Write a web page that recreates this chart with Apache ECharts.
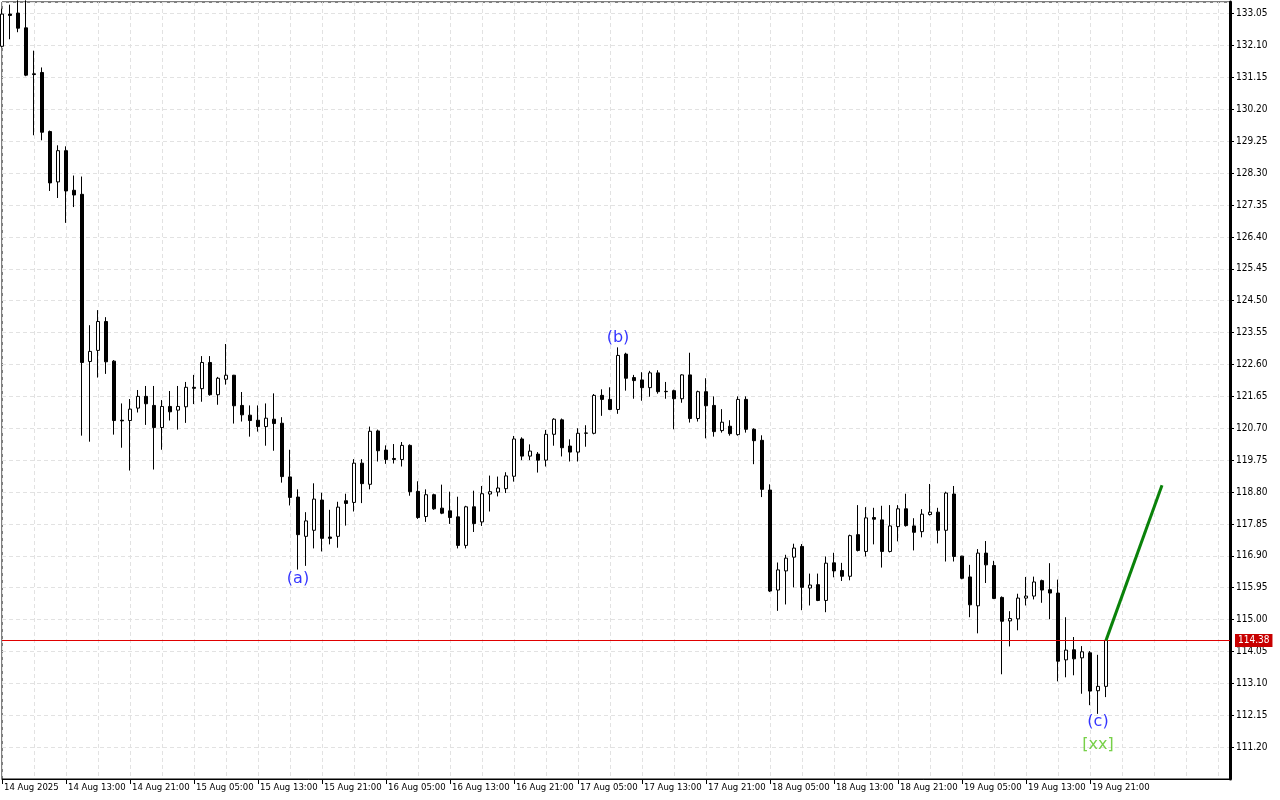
<!DOCTYPE html>
<html>
<head>
<meta charset="utf-8">
<script src="https://cdn.jsdelivr.net/npm/echarts@6/dist/echarts.min.js"></script>
<style>
html,body{margin:0;padding:0;background:#fff;}
#chart{width:1280px;height:800px;}
</style>
</head>
<body>
<div id="chart"></div>
<script>
// Hourly bars, index 0 = 14 Aug 2025 05:00
const opens = [132.08,133.04,133.07,132.63,131.26,131.30,129.54,128.04,128.97,127.79,
127.67,122.69,123.02,123.88,122.70,120.94,120.93,121.30,121.65,121.38,
120.72,121.35,121.24,121.34,121.92,121.88,122.66,121.70,122.16,122.28,
121.38,121.09,120.94,120.75,120.97,120.85,119.25,118.65,117.48,117.66,
118.56,117.46,117.48,118.54,118.49,119.66,119.03,120.62,120.05,119.80,
119.77,120.19,118.82,118.07,118.72,118.32,118.24,118.06,117.21,118.36,
117.91,118.74,118.80,118.90,119.27,120.38,119.87,119.93,119.75,120.52,
120.95,120.17,119.99,120.55,120.55,121.68,121.56,121.26,122.91,122.21,
122.14,121.91,122.35,121.79,121.82,121.58,122.29,120.99,121.79,121.38,
120.63,120.76,120.51,121.56,120.67,120.34,118.86,115.88,116.45,116.86,
117.18,115.94,116.04,115.57,116.69,116.46,116.29,117.53,117.03,118.04,
117.97,117.03,117.77,118.30,117.79,117.62,118.13,118.20,117.66,118.74,
116.89,116.27,115.41,116.98,116.61,115.66,114.96,115.02,115.64,115.70,
116.16,115.89,115.79,113.80,114.10,113.86,114.01,112.88,113.01];
const closes = [133.04,133.00,132.62,131.22,131.24,129.52,128.01,128.97,127.77,127.65,
122.66,122.99,123.88,122.68,120.93,120.92,121.27,121.65,121.43,120.72,
121.35,121.19,121.35,121.92,121.89,122.66,121.70,122.19,122.28,121.37,
121.10,120.93,120.75,121.00,120.84,119.26,118.64,117.53,117.94,118.59,
117.42,117.42,118.35,118.46,119.66,119.05,120.61,120.03,119.77,119.77,
120.19,118.81,118.04,118.72,118.30,118.17,118.04,117.21,118.36,117.86,
118.75,118.81,118.92,119.28,120.38,119.87,120.02,119.75,120.52,120.97,
120.12,119.99,120.55,120.56,121.68,121.56,121.26,122.87,122.19,122.12,
121.91,122.35,121.79,121.80,121.58,122.29,120.99,121.79,121.37,120.60,
120.88,120.54,121.56,120.67,120.33,118.88,115.85,116.48,116.83,117.13,
115.96,116.03,115.57,116.68,116.45,116.29,117.50,117.06,118.03,117.99,
117.03,117.79,118.30,117.80,117.60,118.14,118.20,117.66,118.77,116.88,
116.23,115.44,116.98,116.63,115.63,114.95,115.03,115.64,115.70,116.12,
115.88,115.79,113.76,114.09,113.83,114.04,112.87,113.01,114.38];
const lows = [132.05,132.29,132.50,131.19,129.43,129.28,127.77,127.56,126.82,127.29,
120.48,120.30,122.21,122.32,120.51,120.12,119.44,121.17,120.80,119.47,
120.06,120.93,120.66,120.86,121.42,121.49,121.67,121.40,122.00,120.84,
120.90,120.45,120.60,120.18,120.03,119.08,118.40,116.49,116.60,117.12,
117.03,117.24,117.14,117.80,118.22,118.47,118.88,119.71,119.64,119.65,
119.56,118.69,118.00,117.91,118.27,118.14,117.85,117.12,117.12,117.61,
117.79,118.22,118.67,118.77,119.11,119.75,119.75,119.38,119.56,120.18,
119.86,119.71,119.71,120.15,120.52,121.07,121.24,121.13,121.82,121.58,
121.52,121.64,121.73,121.58,120.67,121.46,120.87,120.90,120.40,120.45,
120.57,120.48,120.48,120.57,119.63,118.65,115.82,115.26,115.45,115.96,
115.28,115.42,115.55,115.22,116.26,116.15,116.17,117.03,116.88,117.24,
116.55,117.00,117.33,117.77,117.06,117.45,118.10,117.27,116.73,116.73,
116.20,115.07,114.59,116.09,115.61,113.37,114.20,114.68,115.42,115.60,
115.50,115.01,113.16,113.28,113.34,112.79,112.45,112.19,112.69];
const highs = [133.20,133.32,133.45,133.45,131.95,131.45,129.57,129.13,129.10,128.23,
128.20,123.77,124.22,124.01,122.73,121.44,121.57,121.84,121.96,121.96,
121.54,121.81,121.96,122.08,122.29,122.85,122.85,122.23,123.21,122.29,
121.78,121.38,121.38,121.44,121.74,121.03,120.06,118.88,118.20,119.06,
118.78,118.27,118.51,118.75,119.78,119.78,120.75,120.66,120.19,120.23,
120.29,120.22,119.12,118.88,118.75,119.02,118.81,118.66,118.39,118.84,
118.98,119.29,119.26,119.39,120.47,120.43,120.22,119.99,120.65,121.00,
120.99,120.37,120.70,120.79,121.72,121.86,121.92,123.11,122.95,122.29,
122.37,122.41,122.43,122.08,121.85,122.31,122.95,121.82,122.19,121.65,
121.27,120.94,121.65,121.65,120.70,120.49,119.03,116.70,116.93,117.26,
117.25,116.37,116.37,116.88,116.99,116.69,117.53,118.41,118.35,118.33,
118.39,118.41,118.41,118.75,118.02,118.29,119.04,118.33,118.81,118.98,
116.90,116.63,117.10,117.34,116.75,115.69,115.25,115.77,116.27,116.28,
116.19,116.68,116.19,115.07,114.48,114.21,114.06,113.95,114.38];

// time-axis tick labels, one every 8 bars
const tickLabels = ['14 Aug 2025','14 Aug 13:00','14 Aug 21:00','15 Aug 05:00','15 Aug 13:00',
'15 Aug 21:00','16 Aug 05:00','16 Aug 13:00','16 Aug 21:00','17 Aug 05:00','17 Aug 13:00',
'17 Aug 21:00','18 Aug 05:00','18 Aug 13:00','18 Aug 21:00','19 Aug 05:00','19 Aug 13:00','19 Aug 21:00'];
const tickBars = tickLabels.map((_, i) => i * 8);

const currentPrice = 114.38;
// projected move: [bar, price]
const forecastLine = [[138, 114.38], [145, 119.0]];
// wave labels: text, bar, price, color
const waveText = ['(a)', '(b)', '(c)', '[xx]'];
const waveBars = [37, 77, 137, 137];
const wavePrices = [116.22, 123.39, 111.94, 111.28];
const waveColors = ['#0000ff', '#0000ff', '#0000ff', '#55c41c'];

const candleData = opens.map((o, i) => [i, o, closes[i], lows[i], highs[i]]);

const chart = echarts.init(document.getElementById('chart'), null, {renderer: 'canvas'});
const fontFam = '"DejaVu Sans Condensed", "Liberation Sans", sans-serif';

chart.setOption({
  animation: false,
  backgroundColor: '#fff',
  grid: {left: 2, right: 50, top: 2, bottom: 21, show: true, borderColor: '#000', borderWidth: 1, backgroundColor: '#fff'},
  xAxis: [{
    type: 'value', min: 0, max: 153.5, position: 'bottom',
    axisLine: {show: true, onZero: false, lineStyle: {color: '#000', width: 1}},
    axisTick: {show: true, length: 5, lineStyle: {color: '#000'}, customValues: tickBars},
    axisLabel: {
      customValues: tickBars, align: 'left', margin: 4, padding: [0, 0, 0, 2],
      fontFamily: fontFam, fontSize: 9.5, color: '#000',
      formatter: v => tickLabels[Math.round(v / 8)] || ''
    },
    splitLine: {show: false}
  }, {
    type: 'value', min: 0, max: 153.5, interval: 4, position: 'top',
    axisLine: {show: false, onZero: false}, axisTick: {show: false}, axisLabel: {show: false},
    splitLine: {show: true, lineStyle: {color: '#e2e2e2', type: [4, 3], width: 1}}
  }],
  yAxis: {
    type: 'value', position: 'right', min: 110.25, max: 133.40, interval: 0.95,
    axisLine: {show: true, onZero: false, lineStyle: {color: '#000', width: 3}},
    axisTick: {show: true, length: 4, lineStyle: {color: '#000'}},
    axisLabel: {
      margin: 6, showMinLabel: false, showMaxLabel: false,
      fontFamily: fontFam, fontSize: 10, color: '#000',
      formatter: v => v.toFixed(2)
    },
    splitLine: {show: true, lineStyle: {color: '#e2e2e2', type: [4, 3], width: 1}}
  },
  series: [{
    type: 'candlestick',
    xAxisIndex: 0,
    data: candleData,
    barWidth: 4,
    itemStyle: {color: '#ffffff', color0: '#000000', borderColor: '#000000', borderColor0: '#000000', borderWidth: 1},
    markLine: {
      silent: true, symbol: ['none', 'none'], animation: false,
      lineStyle: {color: '#e00000', width: 1, type: 'solid'},
      label: {show: true, position: 'end', distance: 5, formatter: currentPrice.toFixed(2),
        color: '#fff', backgroundColor: '#c80000', padding: [2, 3, 1, 3],
        fontFamily: fontFam, fontSize: 10},
      data: [{yAxis: currentPrice}]
    }
  }, {
    type: 'line',
    xAxisIndex: 0,
    data: forecastLine,
    symbol: 'none',
    lineStyle: {color: '#0a820a', width: 3},
    z: 5
  }, {
    type: 'scatter',
    xAxisIndex: 0,
    symbolSize: 1,
    itemStyle: {color: 'rgba(0,0,0,0)'},
    data: waveText.map((t, i) => ({
      value: [waveBars[i], wavePrices[i]],
      label: {show: true, position: 'inside', formatter: t, color: waveColors[i],
        fontFamily: 'DejaVu Sans', fontSize: 16}
    })),
    z: 6
  }]
});
</script>
</body>
</html>
